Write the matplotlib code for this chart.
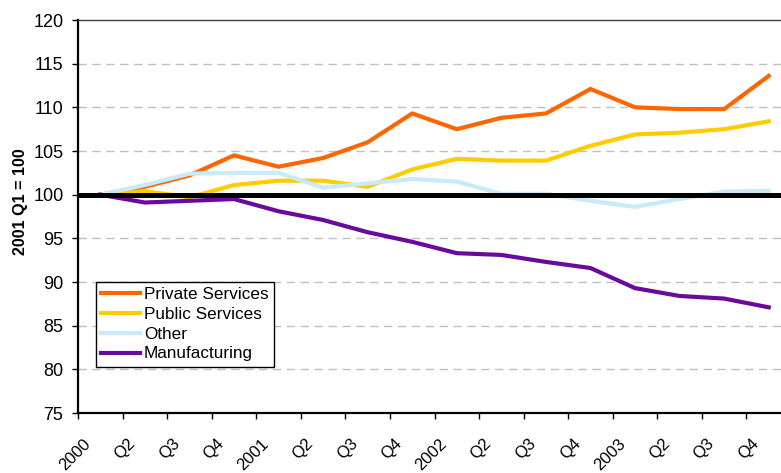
import numpy as np
import matplotlib.pyplot as plt
from matplotlib.transforms import ScaledTranslation

plt.rcParams['font.family'] = ['Liberation Sans', 'DejaVu Sans']

# Quarterly index, 2001 Q1 = 100
quarters = ['2000', 'Q2', 'Q3', 'Q4', '2001', 'Q2', 'Q3', 'Q4',
            '2002', 'Q2', 'Q3', 'Q4', '2003', 'Q2', 'Q3', 'Q4']
private_services = [100.0, 100.9, 102.2, 104.5, 103.2, 104.2, 106.0, 109.3,
                    107.5, 108.8, 109.3, 112.1, 110.0, 109.8, 109.8, 113.6]
public_services = [100.0, 100.4, 99.7, 101.1, 101.6, 101.6, 100.9, 102.9,
                   104.1, 103.9, 103.9, 105.6, 106.9, 107.1, 107.5, 108.4]
other = [100.0, 101.1, 102.4, 102.5, 102.5, 100.8, 101.3, 101.8,
         101.5, 100.1, 100.1, 99.3, 98.6, 99.5, 100.35, 100.45]
manufacturing = [100.0, 99.1, 99.3, 99.5, 98.1, 97.1, 95.7, 94.6,
                 93.3, 93.1, 92.3, 91.6, 89.3, 88.4, 88.1, 87.1]

series = [
    ('Private Services', private_services, '#FF6600'),
    ('Public Services', public_services, '#FFCC00'),
    ('Other', other, '#C8EAF9'),
    ('Manufacturing', manufacturing, '#6A0A9C'),
]

fig = plt.figure(figsize=(7.81, 4.73), dpi=100)
ax = fig.add_axes([78 / 781, 60 / 473, 713 / 781, 393 / 473])

x = np.arange(len(quarters))
for name, values, color in series:
    ax.plot(x, values, color=color, lw=3.0, label=name, solid_joinstyle='miter', zorder=3)

# base line at 100
ax.axhline(100, color='black', lw=3.6, zorder=4)

ax.set_xlim(-0.5, len(quarters) - 0.5)
ax.set_ylim(75, 120)
ax.set_yticks(np.arange(75, 121, 5))
for v in range(80, 120, 5):
    ax.axhline(v, color='#C0C0C0', lw=1.0, ls=(0, (6, 4)), zorder=1)

# category labels at centres, tick marks on the boundaries
ax.set_xticks(x)
ax.set_xticklabels(quarters, rotation=45, ha='right', va='top', fontsize=12)
ax.set_xticks(np.arange(-0.5, len(quarters) - 0.5, 1), minor=True)
ax.tick_params(axis='x', which='major', length=0, pad=16.5)
ax.tick_params(axis='x', which='minor', length=4.5, width=1.0, direction='out')
shift = ScaledTranslation(-7 / 100, 0, fig.dpi_scale_trans)
for lbl in ax.get_xticklabels():
    lbl.set_transform(lbl.get_transform() + shift)

ax.tick_params(axis='y', length=4.5, width=1.0, direction='out', pad=6, labelsize=13)

for side in ('left', 'bottom'):
    ax.spines[side].set_linewidth(1.6)
    ax.spines[side].set_color('black')
ax.spines['top'].set_linewidth(1.0)
ax.spines['top'].set_color('#404040')
ax.spines['right'].set_visible(False)

ax.set_ylabel('2001 Q1 = 100', fontsize=11.6, fontweight='bold')
ax.yaxis.set_label_coords(-0.070, 0.538)

leg = ax.legend(loc='upper left', bbox_to_anchor=(0.0252, 0.3333), fontsize=12.3,
                frameon=True, fancybox=False, edgecolor='black', framealpha=1,
                handlelength=2.3, handletextpad=0.2, labelspacing=0.28,
                borderpad=0.3, borderaxespad=0)
leg.get_frame().set_linewidth(1.0)

fig.savefig('out.png', dpi=100)
